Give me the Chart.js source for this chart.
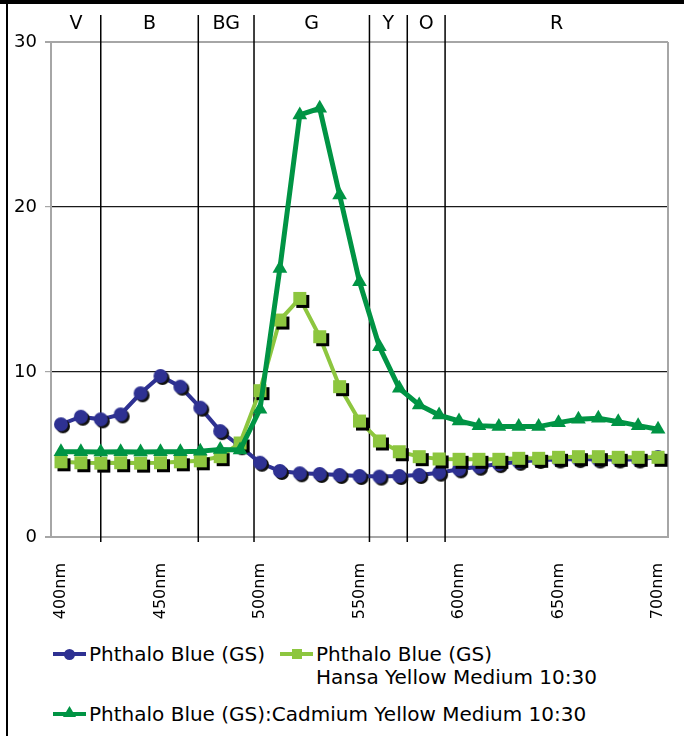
<!DOCTYPE html>
<html>
<head>
<meta charset="utf-8">
<script src="https://cdn.jsdelivr.net/npm/chart.js@4.4.0/dist/chart.umd.min.js"></script>
<style>
  body{margin:0;width:684px;height:736px;position:relative;overflow:hidden;background:#fff;font-family:"DejaVu Sans",Verdana,sans-serif}
  #barTop{position:absolute;left:0;top:0;width:684px;height:4px;background:#000}
  #barLeft{position:absolute;left:6px;top:0;width:2px;height:736px;background:#000}
  #wrap{position:absolute;left:0;top:0;width:684px;height:640px}
  .txt{position:absolute;font-size:20px;line-height:22px;color:#000;white-space:nowrap}
  .ln{position:absolute;height:4px}
  .mk{position:absolute}
</style>
</head>
<body>
<div id="barTop"></div>
<div id="barLeft"></div>
<div id="wrap"><canvas id="chart" width="684" height="640"></canvas></div>
<div id="legend"></div>
<script>
const wavelengths = ["400nm","410nm","420nm","430nm","440nm","450nm","460nm","470nm","480nm","490nm",
  "500nm","510nm","520nm","530nm","540nm","550nm","560nm","570nm","580nm","590nm",
  "600nm","610nm","620nm","630nm","640nm","650nm","660nm","670nm","680nm","690nm","700nm"];

const phthaloBlue = [6.83,7.29,7.13,7.43,8.71,9.76,9.11,7.84,6.42,5.5,
  4.5,4.0,3.86,3.82,3.76,3.7,3.66,3.7,3.76,3.9,
  4.1,4.26,4.42,4.56,4.67,4.7,4.72,4.7,4.7,4.7,4.85];

const hansaMix = [4.56,4.5,4.48,4.5,4.48,4.5,4.56,4.62,4.87,5.7,
  8.87,13.15,14.46,12.14,9.11,7.03,5.82,5.17,4.87,4.73,
  4.71,4.71,4.71,4.77,4.77,4.83,4.87,4.87,4.83,4.83,4.83];

const cadmiumMix = [5.17,5.17,5.15,5.17,5.15,5.17,5.17,5.2,5.31,5.27,
  7.74,16.28,25.58,25.98,20.73,15.47,11.53,9.01,8.0,7.39,
  7.03,6.75,6.69,6.69,6.69,6.93,7.13,7.19,6.99,6.75,6.53];

// colour bands along the top, boundaries in nm
const bandNames = ["V","B","BG","G","Y","O","R"];
const bandEdges = [420,469,497,555,574,593];

const yTicks = [0,10,20,30];

const blue = "#2e3192", lightGreen = "#8dc63f", darkGreen = "#009444";

function marker(shape, size, fill, shadow, off){
  const d = size + 2*off + 2;
  const c = document.createElement("canvas");
  c.width = c.height = d;
  const g = c.getContext("2d");
  const m = d/2;
  function shapeAt(cx, cy, col){
    g.fillStyle = col;
    g.beginPath();
    if(shape === "circle") g.arc(cx, cy, size/2, 0, Math.PI*2);
    else g.rect(cx - size/2, cy - size/2, size, size);
    g.fill();
  }
  if(shadow) shapeAt(m + off, m + off, shadow);
  shapeAt(m, m, fill);
  return c;
}

const circleImg = marker("circle", 14, blue, "#111", 2);
const squareImg = marker("square", 13, lightGreen, "#000", 3);

// wavelength -> category index (fractional)
const nmToIndex = nm => (nm - 400) / 10;

const bandPlugin = {
  id: "bands",
  beforeDatasetsDraw(chart){
    const {ctx, chartArea, scales:{x}} = chart;
    ctx.save();
    ctx.strokeStyle = "#000";
    ctx.lineWidth = 1.5;
    const xs = bandEdges.map(nm => x.getPixelForValue(nmToIndex(nm)));
    xs.forEach(px => {
      ctx.beginPath();
      ctx.moveTo(px, 15);
      ctx.lineTo(px, chartArea.bottom + 5);
      ctx.stroke();
    });
    // right border of plot
    ctx.strokeStyle = "#a6a6a6";
    ctx.lineWidth = 2;
    ctx.beginPath();
    ctx.moveTo(chartArea.right, chartArea.top);
    ctx.lineTo(chartArea.right, chartArea.bottom);
    ctx.stroke();
    // band letters
    const edges = [chartArea.left, ...xs, chartArea.right];
    ctx.fillStyle = "#000";
    ctx.font = '19px "DejaVu Sans"';
    ctx.textAlign = "center";
    ctx.textBaseline = "middle";
    bandNames.forEach((n, i) => ctx.fillText(n, (edges[i] + edges[i+1]) / 2, 24));
    ctx.restore();
  }
};

new Chart(document.getElementById("chart"), {
  type: "line",
  data: {
    labels: wavelengths,
    datasets: [
      {
        label: "Phthalo Blue (GS)",
        data: phthaloBlue,
        borderColor: blue,
        backgroundColor: blue,
        borderWidth: 4,
        pointStyle: circleImg,
        pointRadius: 7,
        order: 2
      },
      {
        label: "Phthalo Blue (GS) Hansa Yellow Medium 10:30",
        data: hansaMix,
        borderColor: lightGreen,
        backgroundColor: lightGreen,
        borderWidth: 4,
        pointStyle: squareImg,
        pointRadius: 7,
        order: 1
      },
      {
        label: "Phthalo Blue (GS):Cadmium Yellow Medium 10:30",
        data: cadmiumMix,
        borderColor: darkGreen,
        backgroundColor: darkGreen,
        borderWidth: 5,
        pointStyle: "triangle",
        pointRadius: 8.5,
        pointBorderWidth: 0,
        order: 0
      }
    ]
  },
  options: {
    responsive: false,
    animation: false,
    layout: {padding: {left: 8, top: 42, right: 16, bottom: 0}},
    plugins: {legend: {display: false}, tooltip: {enabled: false}},
    elements: {line: {tension: 0}},
    scales: {
      x: {
        offset: true,
        grid: {display: false},
        border: {color: "#a6a6a6", width: 2},
        afterFit: s => { s.height = 103; s.paddingLeft = 0; s.paddingRight = 0; },
        ticks: {
          autoSkip: false,
          minRotation: 90,
          maxRotation: 90,
          padding: 18,
          color: "#000",
          font: {family: "DejaVu Sans", size: 16},
          callback: (v, i) => i % 5 === 0 ? wavelengths[i] : ""
        }
      },
      y: {
        min: 0,
        max: 30,
        afterFit: s => { s.width = 43; s.paddingTop = 0; s.paddingBottom = 0; },
        afterBuildTicks: s => { s.ticks = yTicks.map(v => ({value: v})); },
        border: {color: "#a6a6a6", width: 2},
        grid: {
          tickLength: 6,
          color: c => (c.tick.value === 0 || c.tick.value === 30) ? "#a6a6a6" : "#1a1a1a",
          tickColor: "#a6a6a6",
          lineWidth: c => (c.tick.value === 0 || c.tick.value === 30) ? 2 : 1.2
        },
        ticks: {
          padding: 8,
          color: "#000",
          font: {family: "DejaVu Sans", size: 18}
        }
      }
    }
  },
  plugins: [bandPlugin]
});

// legend, as html text
const legendItems = [
  {lines: ["Phthalo Blue (GS)"], color: blue, shape: "circle", x: 53, y: 654},
  {lines: ["Phthalo Blue (GS)", "Hansa Yellow Medium 10:30"], color: lightGreen, shape: "square", x: 280, y: 654},
  {lines: ["Phthalo Blue (GS):Cadmium Yellow Medium 10:30"], color: darkGreen, shape: "triangle", x: 53, y: 714}
];

const leg = document.getElementById("legend");
legendItems.forEach(it => {
  const ln = document.createElement("div");
  ln.className = "ln";
  ln.style.cssText = `left:${it.x}px;top:${it.y - 2}px;width:33px;background:${it.color}`;
  leg.appendChild(ln);
  const mk = document.createElement("div");
  mk.className = "mk";
  const cx = it.x + 16.5;
  if(it.shape === "circle"){
    mk.style.cssText = `left:${cx-5.5}px;top:${it.y-5.5}px;width:11px;height:11px;border-radius:50%;background:${it.color}`;
  } else if(it.shape === "square"){
    mk.style.cssText = `left:${cx-5}px;top:${it.y-5}px;width:10px;height:10px;background:${it.color}`;
  } else {
    mk.style.cssText = `left:${cx-6.5}px;top:${it.y-8}px;width:13px;height:11px;background:${it.color};clip-path:polygon(50% 0,100% 100%,0 100%)`;
  }
  leg.appendChild(mk);
  it.lines.forEach((t, k) => {
    const s = document.createElement("div");
    s.className = "txt";
    s.textContent = t;
    s.style.left = (it.x + 36) + "px";
    s.style.top = (it.y - 11 + k * 23) + "px";
    leg.appendChild(s);
  });
});
</script>
</body>
</html>
